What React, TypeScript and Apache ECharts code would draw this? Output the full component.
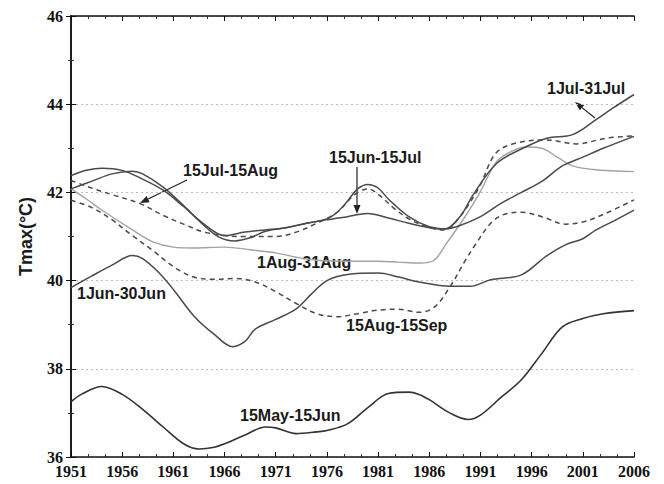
import React, { useEffect, useRef } from "react";
import * as echarts from "echarts";

const BASE_YEAR = 1951;
const xTickYears = [1951, 1956, 1961, 1966, 1971, 1976, 1981, 1986, 1991, 1996, 2001, 2006];
const yTicks = [36, 38, 40, 42, 44, 46];

const may15Years = [1951, 1952, 1954, 1956, 1958, 1960, 1962, 1963.5, 1965, 1966, 1968, 1970, 1971, 1973, 1975, 1976, 1978, 1980, 1982, 1984, 1985, 1986, 1988, 1989.8, 1991, 1993, 1995, 1997, 1999, 2001, 2003, 2006];
const may15Values = [37.25, 37.42, 37.6, 37.42, 37.08, 36.68, 36.3, 36.18, 36.22, 36.3, 36.5, 36.68, 36.66, 36.53, 36.57, 36.6, 36.75, 37.12, 37.44, 37.47, 37.42, 37.3, 37.0, 36.85, 36.95, 37.35, 37.75, 38.35, 38.95, 39.14, 39.25, 39.32];

const jun1Years = [1951, 1953, 1955, 1957, 1958, 1959.5, 1961, 1963, 1965, 1966.8, 1968, 1969, 1971, 1973, 1974.5, 1976, 1978, 1981, 1983, 1985, 1988, 1990, 1992, 1995, 1997.4, 1999.3, 2001, 2002.3, 2004, 2006];
const jun1Values = [39.84, 40.1, 40.35, 40.57, 40.5, 40.2, 39.8, 39.2, 38.78, 38.5, 38.62, 38.9, 39.12, 39.36, 39.7, 40.0, 40.14, 40.17, 40.08, 39.97, 39.87, 39.87, 40.02, 40.13, 40.55, 40.81, 40.95, 41.15, 41.35, 41.6];

const jun15Years = [1951, 1953, 1955, 1957, 1958, 1960, 1962, 1964, 1965.5, 1967, 1968.5, 1970, 1972, 1974, 1976, 1978, 1980, 1982, 1984, 1986, 1987.5, 1989, 1991, 1993, 1995, 1997, 1999, 2001, 2003, 2006];
const jun15Values = [42.08, 42.25, 42.42, 42.48, 42.42, 42.12, 41.7, 41.25, 40.98, 40.9, 40.97, 41.12, 41.2, 41.3, 41.38, 41.45, 41.52, 41.42, 41.3, 41.2, 41.17, 41.25, 41.45, 41.75, 42.0, 42.25, 42.6, 42.8, 43.0, 43.27];

const jul1Years = [1951, 1952.5, 1954, 1956, 1958, 1960, 1962, 1964, 1966, 1968, 1970, 1972, 1974, 1976, 1977, 1978, 1979, 1980, 1981, 1982, 1984, 1986, 1987.5, 1989, 1990.3, 1992.6, 1995.5, 1997.5, 2000, 2002.3, 2004, 2006];
const jul1Values = [42.38, 42.5, 42.55, 42.5, 42.3, 42.05, 41.68, 41.28, 41.02, 41.1, 41.15, 41.2, 41.3, 41.4, 41.55, 41.8, 42.08, 42.18, 42.1, 41.85, 41.45, 41.22, 41.17, 41.45, 41.95, 42.66, 43.04, 43.23, 43.31, 43.65, 43.92, 44.22];

const jul15Years = [1951, 1953, 1955, 1957.7, 1960, 1962, 1964, 1966, 1968, 1971, 1973, 1975, 1977, 1978.7, 1980, 1981.2, 1982.5, 1984, 1986, 1987.5, 1989, 1990.9, 1992.5, 1994.5, 1997.5, 2000.4, 2003.3, 2006];
const jul15Values = [42.27, 42.1, 41.95, 41.75, 41.48, 41.28, 41.1, 41.02, 41.0, 41.0, 41.1, 41.3, 41.55, 41.95, 42.08, 41.92, 41.65, 41.4, 41.2, 41.15, 41.45, 42.13, 42.89, 43.12, 43.19, 43.1, 43.23, 43.28];

const aug1Years = [1951, 1952.5, 1954, 1957, 1959, 1961, 1963, 1966, 1968.5, 1971, 1973, 1975, 1978, 1981, 1983, 1985.1, 1986.4, 1987.7, 1989.3, 1990.9, 1992.6, 1994.2, 1995.5, 1997, 1998.5, 2000, 2002, 2006];
const aug1Values = [42.08, 41.85, 41.6, 41.15, 40.88, 40.76, 40.74, 40.76, 40.7, 40.63, 40.53, 40.46, 40.44, 40.44, 40.42, 40.4, 40.45, 40.85, 41.38, 41.98, 42.7, 42.95, 43.03, 43.0, 42.8, 42.6, 42.52, 42.47];

const aug15Years = [1951, 1953, 1955, 1957, 1959, 1961, 1963, 1965, 1967, 1969, 1971, 1973, 1975, 1977, 1979, 1981, 1983, 1985, 1986.5, 1988, 1989.5, 1990.6, 1992, 1993.2, 1995, 1997, 1999.3, 2001, 2003, 2006];
const aug15Values = [41.82, 41.66, 41.38, 41.02, 40.68, 40.32, 40.08, 40.03, 40.05, 39.97, 39.75, 39.48, 39.25, 39.18, 39.25, 39.33, 39.35, 39.28, 39.4, 39.85, 40.45, 40.85, 41.3, 41.49, 41.55, 41.45, 41.28, 41.33, 41.5, 41.83];

const seriesNames = ["15May-15Jun", "1Jun-30Jun", "15Jun-15Jul", "1Jul-31Jul", "15Jul-15Aug", "1Aug-31Aug", "15Aug-15Sep"];

function pairs(years: number[], values: number[]) {
  return years.map((y, i) => [y - BASE_YEAR, values[i]]);
}

function arrow(x1: number, y1: number, x2: number, y2: number, color: string) {
  const dx = x2 - x1;
  const dy = y2 - y1;
  const len = Math.sqrt(dx * dx + dy * dy);
  const ux = dx / len;
  const uy = dy / len;
  const hl = 9;
  const hw = 3.5;
  const bx = x2 - ux * hl;
  const by = y2 - uy * hl;
  return [
    { type: "line", shape: { x1, y1, x2: bx, y2: by }, style: { stroke: color, lineWidth: 1.2 }, silent: true },
    {
      type: "polygon",
      shape: { points: [[x2, y2], [bx - uy * hw, by + ux * hw], [bx + uy * hw, by - ux * hw]] },
      style: { fill: color },
      silent: true,
    },
  ];
}

export default function App() {
  const ref = useRef<HTMLDivElement>(null);
  useEffect(() => {
    if (!ref.current) return;
    const chart = echarts.init(ref.current, null, { renderer: "svg" });
    const dark = "#4a4a4a";
    const darker = "#333";
    const grey = "#a3a3a3";
    const labelFont = { fontFamily: '"Liberation Serif", "Times New Roman", serif', fontWeight: "bold" as const, fontSize: 16, color: "#111" };
    const txt = (text: string, x: number, y: number) => ({
      type: "text",
      x,
      y,
      silent: true,
      style: {
        text,
        fill: "#1a1a1a",
        fontSize: 16,
        fontWeight: "bold",
        fontFamily: '"Liberation Sans", Arial, sans-serif',
        align: "left",
        verticalAlign: "middle",
      },
    });
    const lineStyleFor = (i: number) => {
      if (i === 0) return { color: darker, width: 1.6, type: "solid" };
      if (i === 5) return { color: grey, width: 1.4, type: "solid" };
      if (i === 4 || i === 6) return { color: dark, width: 1.5, type: [5, 4] };
      return { color: dark, width: 1.5, type: "solid" };
    };
    const datasets = [
      pairs(may15Years, may15Values),
      pairs(jun1Years, jun1Values),
      pairs(jun15Years, jun15Values),
      pairs(jul1Years, jul1Values),
      pairs(jul15Years, jul15Values),
      pairs(aug1Years, aug1Values),
      pairs(aug15Years, aug15Values),
    ];
    const xMax = xTickYears[xTickYears.length - 1] - BASE_YEAR;
    const commonX = {
      type: "value",
      min: 0,
      max: xMax,
      interval: 5,
      axisLine: { show: true, lineStyle: { color: "#111", width: 1.5 } },
      axisTick: { show: true, inside: true, length: 5, lineStyle: { color: "#111" } },
      minorTick: { show: true, splitNumber: 3, length: 3, lineStyle: { color: "#333" } },
      splitLine: { show: false },
    };
    const commonY = {
      type: "value",
      min: yTicks[0],
      max: yTicks[yTicks.length - 1],
      interval: 2,
      axisLine: { show: true, lineStyle: { color: "#111", width: 1.5 } },
      axisTick: { show: true, inside: true, length: 5, lineStyle: { color: "#111" } },
      minorTick: { show: true, splitNumber: 2, length: 3, lineStyle: { color: "#333" } },
    };
    chart.setOption({
      animation: false,
      backgroundColor: "#fff",
      grid: { left: 71, right: 30, top: 16, bottom: 27, containLabel: false },
      xAxis: [
        {
          ...commonX,
          position: "bottom",
          axisLabel: { ...labelFont, margin: 6, formatter: (v: number) => String(v + BASE_YEAR) },
        },
        { ...commonX, position: "top", axisLabel: { show: false } },
      ],
      yAxis: [
        {
          ...commonY,
          position: "left",
          axisLabel: { ...labelFont, margin: 8 },
          splitLine: { show: true, lineStyle: { color: "#bdbdbd", type: [2, 3], width: 1.2 } },
          name: "Tmax(°C)",
          nameLocation: "middle",
          nameGap: 36,
          nameTextStyle: { fontFamily: '"Liberation Sans", Arial, sans-serif', fontWeight: "bold", fontSize: 18, color: "#1a1a1a" },
        },
        { ...commonY, position: "right", axisLabel: { show: false }, splitLine: { show: false } },
      ],
      series: datasets.map((d, i) => ({
        name: seriesNames[i],
        type: "line",
        xAxisIndex: 0,
        yAxisIndex: 0,
        data: d,
        smooth: 0.35,
        showSymbol: false,
        symbol: "none",
        lineStyle: lineStyleFor(i),
        z: i === 5 ? 1 : 2,
      })),
      graphic: [
        txt("1Jul-31Jul", 547, 88),
        txt("15Jul-15Aug", 183, 170),
        txt("15Jun-15Jul", 329, 157),
        txt("1Aug-31Aug", 257, 262),
        txt("1Jun-30Jun", 77, 293),
        txt("15Aug-15Sep", 346, 325),
        txt("15May-15Jun", 240, 415),
        ...arrow(595, 118, 575, 102, "#222"),
        ...arrow(187, 180, 140, 203, "#222"),
        ...arrow(357, 167, 357, 214, "#222"),
      ],
    });
    return () => chart.dispose();
  }, []);
  return <div ref={ref} style={{ position: "fixed", left: 0, top: 0, width: 664, height: 484 }} />;
}
